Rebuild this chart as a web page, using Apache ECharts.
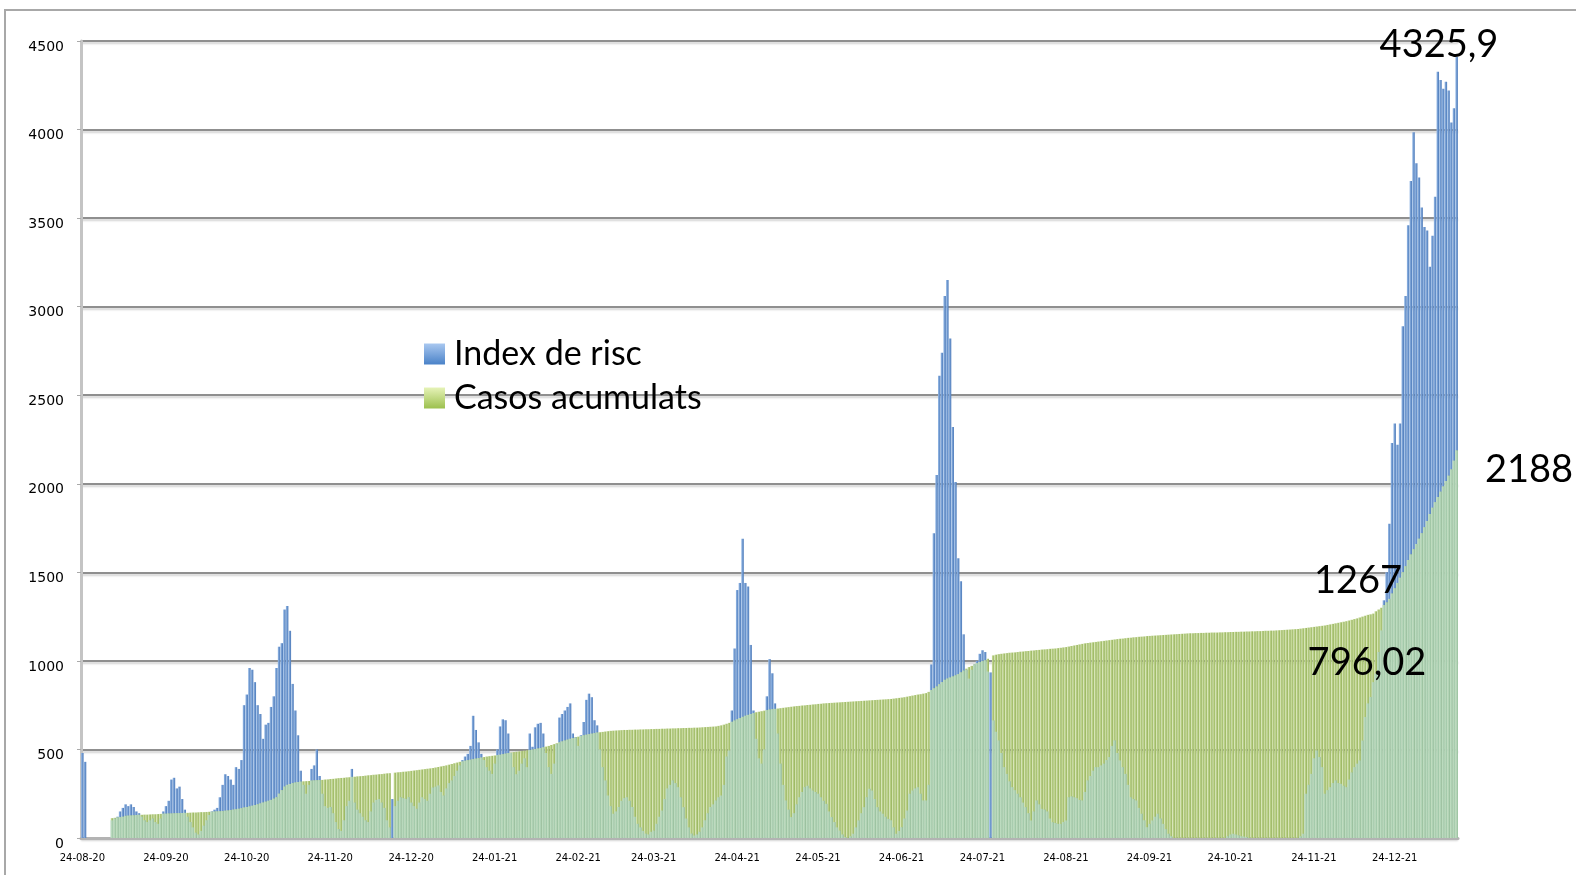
<!DOCTYPE html>
<html>
<head>
<meta charset="utf-8">
<script src="https://cdn.jsdelivr.net/npm/echarts@6/dist/echarts.min.js"></script>
<style>
  html, body { margin: 0; padding: 0; background: #fff; }
  #chart { width: 1576px; height: 875px; }
</style>
</head>
<body>
<div id="chart"></div>
<script>
// dies des del 24-08-20 (un valor per dia)
const riscA = [
  480,430,null,null,null,null,null,null,null,null,
  null,100,110,120,150,170,190,180,190,175,
  150,140,120,100,90,100,110,90,80,110,
  150,180,210,330,340,280,290,220,160,120,
  90,60,30,20,40,70,100,130,150,160,
  170,230,300,360,350,330,300,400,390,440,
  750,810,960,950,880,750,700,560,640,650,
  740,800,960,1080,1100,1290,1310,1170,870,720,
  580,380,300,250,300,390,410,500,350,250,
  180,170,175,140,90,50,40,100,180,210
];
const riscB = [
  390,200,160,140,120,100,90,150,200,215,
  220,200,170,100,60,220,180,210,230,225,
  220,230,200,180,165,200,230,220,210,250,
  285,290,297,260,240,280,310,325,350,380,
  410,440,460,475,520,690,610,540,475,440,
  400,380,362,420,500,630,670,665,590,480,
  400,360,380,420,450,400,590,515,625,645,
  650,590,480,400,362,420,530,680,700,720,
  740,760,590,570,520,580,655,780,815,795,
  665,636,500,400,325,240,180,137,150,175
];
const riscC = [
  210,225,230,210,175,120,80,60,40,25,
  20,35,42,80,120,155,220,280,300,325,
  310,287,230,174,110,60,25,14,20,35,
  60,100,140,175,190,212,230,240,300,460,
  494,720,1070,1400,1440,1690,1440,1420,1090,720,
  560,450,420,500,800,1010,930,760,590,420,
  300,212,160,118,140,190,230,260,287,295,
  280,268,260,250,230,210,193,150,118,90,
  60,42,20,5,0,10,24,60,99,140,
  174,230,278,268,220,174,150,137,120,108
];
const riscD = [
  100,60,24,40,61,110,155,250,268,280,
  287,250,212,212,300,980,1720,2050,2610,2740,
  3060,3150,2820,2320,2010,1580,1450,1150,950,900,
  950,980,1000,1040,1060,1050,940,935,664,600,
  551,480,400,362,320,287,270,250,230,200,
  174,140,99,150,212,190,165,160,150,110,
  89,85,80,80,90,99,230,235,230,225,
  215,212,260,325,350,380,400,400,410,420,
  440,457,520,551,480,438,400,362,300,230,
  220,212,170,137,100,61,80,99,120,137
];
const riscE = [
  110,80,50,24,10,0,0,0,0,0,
  0,0,0,0,0,0,0,0,0,0,
  0,0,0,0,0,10,20,24,20,15,
  10,8,5,0,0,0,0,0,0,0,
  0,0,0,0,0,0,0,0,0,0,
  0,0,10,24,250,300,362,450,494,457,
  400,250,270,287,310,325,310,306,295,287,
  330,370,400,420,438,550,683,760,796,880,
  928,1050,1172,1342,1500,1775,2230,2340,2220,2340,
  2890,3060,3460,3710,3985,3810,3730,3560,3450,3430,
  3225,3400,3620,4326,4280,4230,4270,4220,4040,4120,
  4410
];

const casosA = [
  null,null,null,null,null,null,null,null,null,null,
  null,112,114,116,118,120,125,126,127,128,
  130,131,131,132,132,133,134,134,135,136,
  137,137,138,138,139,140,140,141,142,142,
  143,144,144,145,146,146,147,148,148,149,
  150,151,152,154,155,158,160,162,165,168,
  172,175,178,182,186,190,195,200,205,210,
  215,222,230,250,270,290,300,305,310,313,
  316,318,320,321,322,324,325,326,327,328,
  330,331,333,334,336,338,339,340,342,343
];
const casosB = [
  345,346,348,349,350,352,354,355,357,358,
  360,361,363,365,366,null,369,371,372,374,
  375,377,379,381,383,385,387,389,391,393,
  395,398,401,404,407,410,414,418,422,426,
  430,432,436,439,442,445,448,451,454,457,
  460,462,464,466,468,470,473,476,479,482,
  485,487,489,491,493,495,497,499,502,505,
  508,512,516,520,525,530,535,540,545,550,
  555,560,564,568,572,576,580,583,586,589,
  592,595,597,599,601,603,605,606,607,608
];
const casosC = [
  609,610,610,611,611,612,612,613,613,614,
  614,615,615,616,616,617,617,618,618,619,
  619,620,620,621,621,622,622,623,623,624,
  625,626,627,628,629,630,633,636,640,645,
  650,656,663,670,677,684,690,695,700,705,
  710,713,716,719,722,725,727,729,731,733,
  735,737,739,741,743,745,746,748,749,751,
  752,754,755,757,758,760,761,762,763,764,
  765,766,767,768,769,770,771,772,773,774,
  775,776,777,778,779,780,781,782,783,784
];
const casosD = [
  785,787,789,791,793,795,798,801,804,807,
  810,812,815,818,825,835,845,855,868,880,
  893,900,906,912,918,925,935,945,956,965,
  972,980,987,993,998,1003,1012,null,1031,1035,
  1038,1040,1042,1044,1046,1047,1048,1050,1052,1053,
  1055,1056,1058,1059,1061,1062,1064,1065,1066,1068,
  1069,1070,1072,1074,1076,1078,1081,1084,1087,1090,
  1093,1096,1099,1101,1103,1105,1107,1109,1111,1113,
  1115,1117,1119,1121,1123,1125,1126,1128,1130,1131,
  1133,1134,1136,1137,1138,1140,1141,1142,1143,1144
];
const casosE = [
  1145,1146,1147,1148,1149,1150,1151,1152,1153,1154,
  1155,1156,1156,1157,1157,1158,1158,1159,1159,1160,
  1160,1160,1161,1161,1162,1162,1163,1163,1164,1164,
  1165,1165,1166,1166,1167,1167,1168,1168,1169,1170,
  1170,1171,1171,1172,1173,1174,1175,1176,1177,1178,
  1179,1180,1182,1184,1186,1188,1190,1192,1194,1196,
  1198,1200,1203,1206,1209,1212,1215,1218,1221,1224,
  1228,1232,1236,1240,1245,1250,1255,1260,1263,1267,
  1280,1290,1300,1315,1330,1350,1380,1410,1440,1470,
  1500,1535,1570,1600,1630,1660,1690,1720,1755,1790,
  1830,1865,1895,1925,1955,1985,2015,2045,2080,2130,
  2188
];

// textos destacats
const notes = [
  { text: '4325,9', x: 1439, y: 45 },
  { text: '2188', x: 1529, y: 470 },
  { text: '1267', x: 1358, y: 581 },
  { text: '796,02', x: 1367, y: 663 }
];

const risc = riscA.concat(riscB, riscC, riscD, riscE);
const casos = casosA.concat(casosB, casosC, casosD, casosE);
// part de l'index que queda per sota dels casos (es veu clara a traves del verd)
const solapa = risc.map(function (v, i) {
  const c = casos[i];
  if (v == null || c == null) return null;
  return Math.min(v, c);
});

// etiquetes de dia dd-mm-aa
const dies = [];
for (let i = 0; i < risc.length; i++) {
  const d = new Date(Date.UTC(2020, 7, 24 + i));
  const dd = String(d.getUTCDate()).padStart(2, '0');
  const mm = String(d.getUTCMonth() + 1).padStart(2, '0');
  const yy = String(d.getUTCFullYear()).slice(2);
  dies.push(dd + '-' + mm + '-' + yy);
}
const es24 = function (idx, val) { return val.slice(0, 2) === '24'; };

const grad = function (a, b, horiz) {
  return new echarts.graphic.LinearGradient(0, 0, horiz ? 1 : 0, horiz ? 0 : 1, [
    { offset: 0, color: a }, { offset: 1, color: b }
  ]);
};

let myChart = echarts.init(document.getElementById('chart'));
let option = {
  animation: false,
  grid: { left: 81, right: 118, top: 41, bottom: 37 },
  legend: {
    orient: 'vertical',
    left: 419,
    top: 328,
    itemWidth: 21,
    itemHeight: 21,
    itemGap: 2,
    icon: 'rect',
    textStyle: { fontFamily: 'Lato', fontSize: 34, color: '#000', lineHeight: 42, padding: [0, 0, 0, 4] },
    data: [
      { name: 'Index de risc', itemStyle: { color: grad('#a9c8f0', '#4a82c8', false) } },
      { name: 'Casos acumulats', itemStyle: { color: grad('#e6f3b8', '#9cc04e', false) } }
    ]
  },
  xAxis: {
    type: 'category',
    data: dies,
    axisLine: { lineStyle: { color: '#b3b3b3', width: 3 } },
    axisTick: { interval: es24, length: 5, lineStyle: { color: '#999' } },
    axisLabel: { interval: es24, fontFamily: 'DejaVu Sans', fontSize: 10, color: '#000', margin: 15 }
  },
  yAxis: {
    type: 'value',
    min: 0,
    max: 4500,
    interval: 500,
    axisLine: { show: true, lineStyle: { color: '#c4c4c4', width: 3 } },
    axisTick: { show: true, length: 4, lineStyle: { color: '#aaa' } },
    axisLabel: {
      fontFamily: 'DejaVu Sans', fontSize: 14, color: '#000', margin: 17,
      verticalAlign: 'top', padding: [-1, 0, 0, 0],
      formatter: function (v) { return String(v); }
    },
    splitLine: {
      lineStyle: {
        color: '#8f8f8f', width: 2,
        shadowColor: 'rgba(0,0,0,0.18)', shadowBlur: 2, shadowOffsetY: 2
      }
    }
  },
  series: [
    {
      name: 'Index de risc',
      type: 'bar',
      data: risc,
      z: 2,
      barGap: '-100%',
      barCategoryGap: '8%',
      itemStyle: { color: grad('#95b9e6', '#4a78b8', true) }
    },
    {
      name: 'Casos acumulats',
      type: 'bar',
      data: casos,
      z: 3,
      barGap: '-100%',
      barCategoryGap: '8%',
      itemStyle: { color: grad('#cde0a0', '#93b058', true) }
    },
    {
      name: 'solapament',
      type: 'bar',
      data: solapa,
      z: 4,
      silent: true,
      barGap: '-100%',
      barCategoryGap: '8%',
      itemStyle: { color: grad('#c4e2cc', '#9cc6ae', true), opacity: 0.88 }
    }
  ],
  graphic: [
    {
      type: 'rect', silent: true,
      shape: { x: 5, y: 10, width: 1600, height: 900 },
      style: { fill: 'none', stroke: '#a8a8a8', lineWidth: 2 }
    }
  ].concat(notes.map(function (n) {
    return {
      type: 'text', silent: true, x: n.x, y: n.y, z: 100,
      style: { text: n.text, fontFamily: 'Lato', fontSize: 38, fill: '#000', align: 'center', verticalAlign: 'middle' }
    };
  }))
};
myChart.setOption(option);
window.addEventListener('resize', function () { myChart.resize(); });
</script>
</body>
</html>
